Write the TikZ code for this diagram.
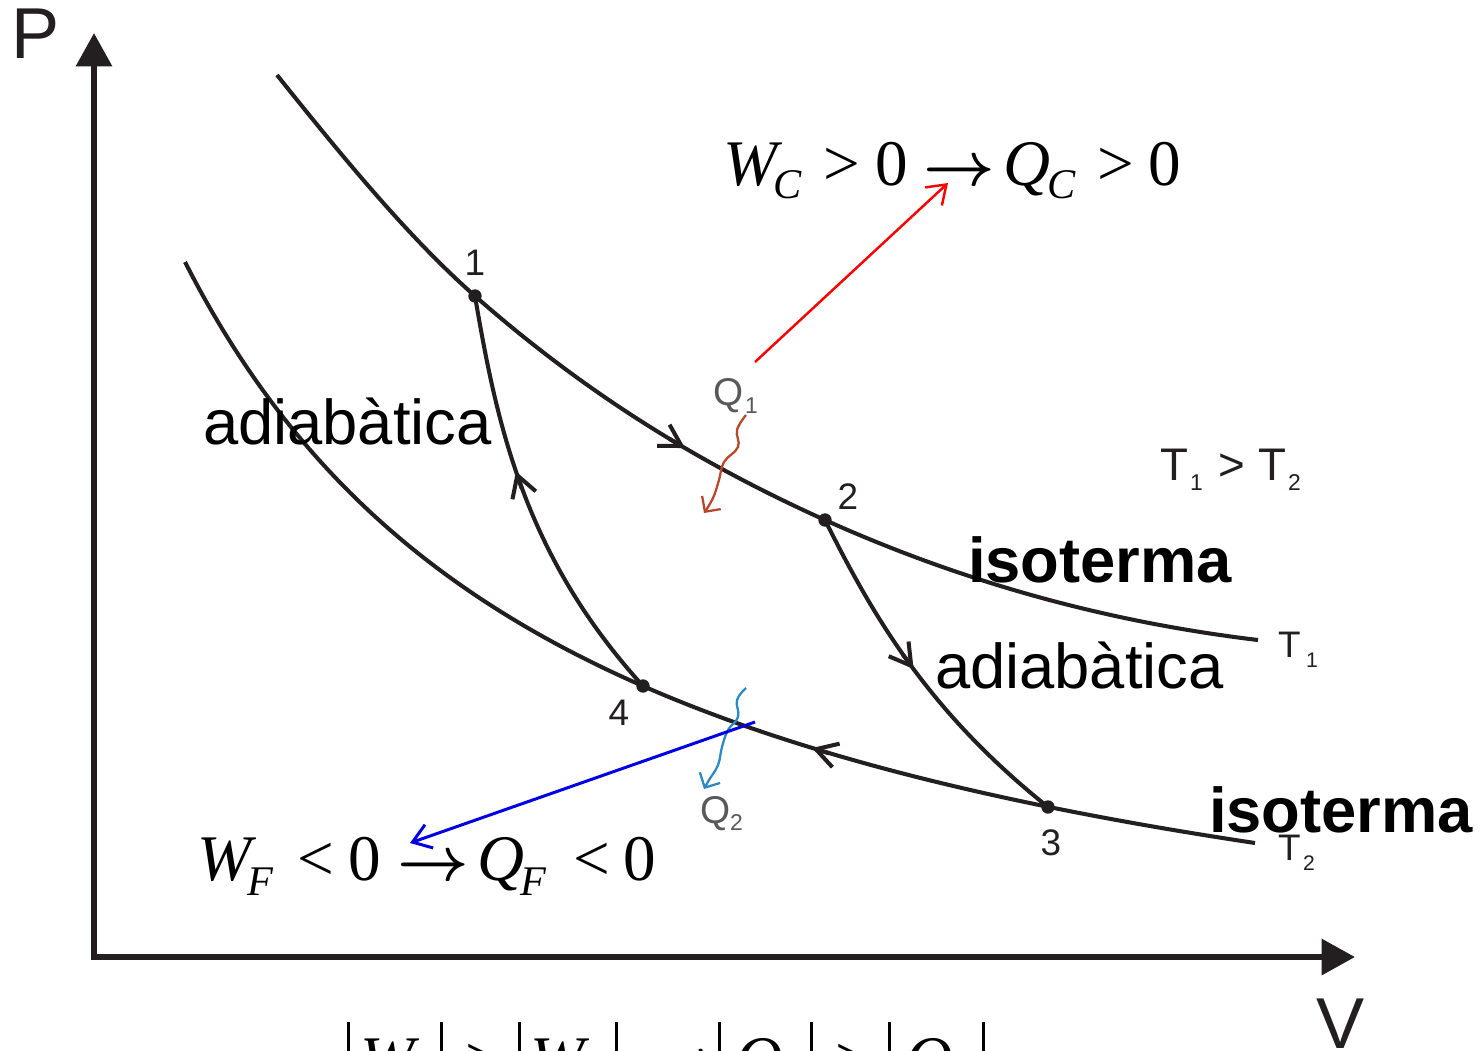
\documentclass[tikz,border=0pt]{standalone}
\usepackage{graphicx}
\usepackage{fontspec}
\setmainfont{Liberation Sans}
\newfontfamily\tms{Liberation Serif}
\usetikzlibrary{arrows.meta}
\definecolor{ink}{HTML}{231F20}
\definecolor{qgray}{HTML}{595959}
\definecolor{qone}{HTML}{B9472B}
\definecolor{qtwo}{HTML}{2A8AC6}
\definecolor{wblue}{RGB}{0,0,225}
\newcommand{\sz}[1]{\fontsize{#1}{#1}\selectfont}
\newcommand{\pc}[2]{\makebox[#1cm][l]{#2}}
\newcommand{\arr}{\scalebox{1.77}{\sz{10}\boldmath$\rightarrow$}}
\newcommand{\vb}{\rule[-0.20cm]{0.025cm}{0.79cm}}
\newcommand{\sbs}[1]{\raisebox{-0.13cm}{\sz{12}\itshape #1}}
\begin{document}
\begin{tikzpicture}[x=0.01cm,y=-0.01cm,
  curve/.style={line width=1.15pt, draw=ink, line join=round},
  barb/.style={line width=1.15pt, draw=ink, -{Straight Barb[length=6pt,width=7pt]}},
  wavy/.style={line width=0.65pt, -{Straight Barb[length=3.2pt,width=6.5pt]}},
  lbl/.style={inner sep=0pt, outer sep=0pt, anchor=base west},
  num/.style={inner sep=0pt, text=ink, font=\sz{10.5}},
  dot/.style={circle, fill=ink, inner sep=0pt, minimum size=3.8pt},
  axis/.style={line width=1.7pt, draw=ink, line join=miter}]
\useasboundingbox (0,0) rectangle (1481,1050);
\clip (0,0) rectangle (1481,1050);

% axes
\coordinate (O) at (94,957);
\coordinate (Ptip) at (94,33);
\coordinate (Vtip) at (1355,957);
\draw[axis, {Triangle[length=9.5pt,width=10pt]}-{Triangle[length=9.5pt,width=10pt]}] (Ptip) -- (O) -- (Vtip);
\node[inner sep=0pt, text=ink, font=\sz{20.5}] (P) at (36,34) {P};
\node[inner sep=0pt, text=ink, font=\sz{20.5}] (V) at (1341,1024) {V};

% cycle points
\coordinate (c1) at (475,296);
\coordinate (c2) at (825,520);
\coordinate (c3) at (1048,807);
\coordinate (c4) at (643,686);
\coordinate (u0) at (277,75);
\coordinate (u9) at (1258,640);

% isotherm T1
\draw[curve] (u0) .. controls (343,157.5) and (409,237.9) .. (c1)
  .. controls (591.7,398.7) and (708.3,467.5) .. (c2)
  .. controls (969.3,584.9) and (1113.7,622.7) .. (u9);
% isotherm T2
\draw[curve] plot[domain=185:1255, samples=90, smooth] (\x, {1065.6 - 3294.74/((\x+225)/100)});
% adiabats
\draw[curve] (c1) .. controls (497,426) and (525,556) .. (c4);
\draw[curve] (c2) .. controls (872.8,615.7) and (928,711.3) .. (c3);

% direction arrows
\coordinate (a1s) at (669.5,438.9); \coordinate (a1t) at (685,448);
\coordinate (a2s) at (521.8,488.5); \coordinate (a2t) at (516,471.5);
\coordinate (a3s) at (902.9,654.6); \coordinate (a3t) at (913.6,669);
\coordinate (a4s) at (829.2,753.3); \coordinate (a4t) at (812,748);
\draw[barb] (a1s) -- (a1t);
\draw[barb] (a2s) -- (a2t);
\draw[barb] (a3s) -- (a3t);
\draw[barb] (a4s) -- (a4t);

% points
\node[dot] (p1) at (c1) {};
\node[dot] (p2) at (c2) {};
\node[dot] (p3) at (c3) {};
\node[dot] (p4) at (c4) {};
\node[num] (n1) at (475,263) {1};
\node[num] (n2) at (848,497) {2};
\node[num] (n3) at (1051,843) {3};
\node[num] (n4) at (619,713) {4};

% labels
\node[lbl, font=\sz{18}] (ad1) at (203,444) {adiabàtica};
\node[lbl, font=\sz{18}] (ad2) at (935,688) {adiabàtica};
\node[lbl, font=\sz{18}\bfseries] (is1) at (968,582) {isoterma};
\node[lbl, font=\sz{18}\bfseries] (is2) at (1209,832) {isoterma};

\node[lbl, font=\sz{13}, text=ink] (tt) at (1160,480) {\pc{0.30}{T}\pc{0.28}{\raisebox{-0.10cm}{\sz{6.5}1}}\pc{0.40}{>}\pc{0.30}{T}\raisebox{-0.10cm}{\sz{6.5}2}};
\node[lbl, font=\sz{10.5}, text=ink] (t1) at (1278,657) {\pc{0.28}{T}\raisebox{-0.10cm}{\sz{6}1}};
\node[lbl, font=\sz{10.5}, text=ink] (t2) at (1278,860) {\pc{0.25}{T}\raisebox{-0.10cm}{\sz{6}2}};

\node[lbl, font=\sz{11}, text=qgray] (q1) at (713,405) {\pc{0.32}{Q}\raisebox{-0.08cm}{\sz{6.5}1}};
\node[lbl, font=\sz{11}, text=qgray] (q2) at (700,823) {\pc{0.30}{Q}\raisebox{-0.07cm}{\sz{6.5}2}};

% heat arrows (wavy)
\draw[wavy, qone] plot[smooth, tension=0.7] coordinates {(746,415) (737,430) (738,447) (724,462) (719,480) (713,498) (704,513)};
\draw[wavy, qtwo] plot[smooth, tension=0.7] coordinates {(746,688) (737,700) (738,717) (728,730) (722,747) (718,765) (709,780) (704,789)};

% formulas
\node[lbl, font=\tms\sz{18.5}] (fc) at (723,185) {\pc{0.50}{\itshape W}\pc{0.50}{\sbs{C}}\pc{0.52}{>}\pc{0.48}{0}\pc{0.80}{\arr}\pc{0.44}{\itshape Q}\pc{0.50}{\sbs{C}}\pc{0.51}{>}0};
\node[lbl, font=\tms\sz{18.5}] (ff) at (197,880) {\pc{0.50}{\itshape W}\pc{0.50}{\raisebox{-0.02cm}{\sbs{F}}}\pc{0.51}{<}\pc{0.49}{0}\pc{0.80}{\arr}\pc{0.43}{\itshape Q}\pc{0.53}{\raisebox{-0.02cm}{\sbs{F}}}\pc{0.50}{<}0};
\node[lbl, font=\tms\sz{18.5}] (fb) at (347,1081) {\pc{0.13}{\vb}\pc{0.50}{\itshape W}\pc{0.30}{\sbs{C}}\pc{0.25}{\vb}\pc{0.53}{>}\pc{0.12}{\vb}\pc{0.50}{\itshape W}\pc{0.35}{\sbs{F}}\pc{0.35}{\vb}\pc{0.68}{\arr}\pc{0.17}{\vb}\pc{0.45}{\itshape Q}\pc{0.30}{\sbs{C}}\pc{0.25}{\vb}\pc{0.53}{>}\pc{0.17}{\vb}\pc{0.45}{\itshape Q}\pc{0.32}{\sbs{F}}\vb};

% work arrows
\coordinate (rs) at (755,362); \coordinate (rt) at (948,183);
\draw[red, line width=0.7pt, -{Straight Barb[length=5pt,width=7pt]}] (rs) -- (rt);
\coordinate (bs) at (755,722); \coordinate (bt) at (410,843);
\draw[wblue, line width=0.85pt, -{Straight Barb[length=5pt,width=7pt]}] (bs) -- (bt);
\end{tikzpicture}
\end{document}
